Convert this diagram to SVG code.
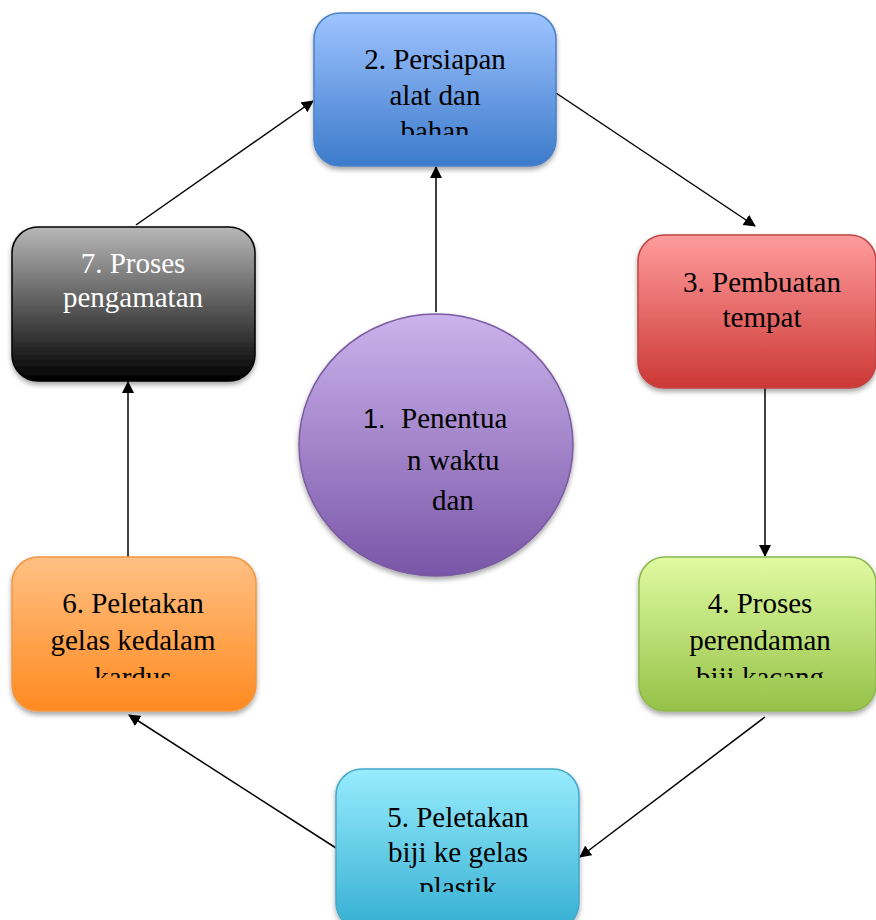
<svg xmlns="http://www.w3.org/2000/svg" width="876" height="920" viewBox="0 0 876 920">
<style>
.t{font-family:"Liberation Serif","Times New Roman",serif;font-size:29px;fill:#000;text-anchor:middle}
.w{fill:#fff}
.c{stroke:#000;stroke-width:1.5;fill:none;marker-end:url(#ah)}
</style>
<defs>
<marker id="ah" markerWidth="12" markerHeight="12" refX="11" refY="6" orient="auto" markerUnits="userSpaceOnUse" viewBox="0 0 12 12">
<path d="M0,0 L12,6 L0,12 z" fill="#000"/>
</marker>
<filter id="sh" x="-10%" y="-10%" width="125%" height="130%">
<feDropShadow dx="0" dy="3" stdDeviation="2.5" flood-color="#000" flood-opacity="0.35"/>
</filter>
<linearGradient id="g1" x1="0" y1="0" x2="0" y2="1"><stop offset="0" stop-color="#CBB3EC"/><stop offset="1" stop-color="#7A56A8"/></linearGradient>
<linearGradient id="g2" x1="0" y1="0" x2="0" y2="1"><stop offset="0" stop-color="#9EC4FF"/><stop offset="1" stop-color="#3D7ACB"/></linearGradient>
<linearGradient id="g3" x1="0" y1="0" x2="0" y2="1"><stop offset="0" stop-color="#FF9C9C"/><stop offset="1" stop-color="#CC3835"/></linearGradient>
<linearGradient id="g4" x1="0" y1="0" x2="0" y2="1"><stop offset="0" stop-color="#E0FBA2"/><stop offset="1" stop-color="#95C248"/></linearGradient>
<linearGradient id="g5" x1="0" y1="0" x2="0" y2="1"><stop offset="0" stop-color="#98ECFE"/><stop offset="1" stop-color="#35AFD2"/></linearGradient>
<linearGradient id="g6" x1="0" y1="0" x2="0" y2="1"><stop offset="0" stop-color="#FFC083"/><stop offset="1" stop-color="#FF8A20"/></linearGradient>
<linearGradient id="g7" x1="0" y1="0" x2="0" y2="1"><stop offset="0" stop-color="#B8B8B8"/><stop offset="1" stop-color="#000"/></linearGradient>
<clipPath id="c2"><rect x="314" y="13" width="242" height="122"/></clipPath>
<clipPath id="c4"><rect x="639" y="557" width="237" height="121"/></clipPath>
<clipPath id="c5"><rect x="336" y="769" width="243" height="123"/></clipPath>
<clipPath id="c6"><rect x="12" y="557" width="244" height="121"/></clipPath>
</defs>
<rect width="876" height="920" fill="#fff"/>
<g id="connectors">
<line class="c" x1="436" y1="312" x2="436" y2="167"/>
<line class="c" x1="136" y1="225" x2="313" y2="101"/>
<line class="c" x1="556" y1="93" x2="755" y2="226"/>
<line class="c" x1="765" y1="388" x2="765" y2="556"/>
<line class="c" x1="765" y1="717" x2="580" y2="857"/>
<line class="c" x1="336" y1="848" x2="129" y2="715"/>
<line class="c" x1="128" y1="557" x2="128" y2="382"/>
</g>
<g id="node1">
<ellipse cx="436" cy="445" rx="137" ry="131" fill="url(#g1)" stroke="#7A5AA0" stroke-width="1.5" filter="url(#sh)"/>
<text x="363" y="428" style="font-family:'Liberation Sans',Arial,sans-serif;font-size:27px">1.</text>
<text x="401" y="428" class="t" style="text-anchor:start">Penentua</text>
<text x="407" y="470" class="t" style="text-anchor:start">n waktu</text>
<text x="432" y="510" class="t" style="text-anchor:start">dan</text>
</g>
<g id="node2">
<rect x="314" y="13" width="242" height="153" rx="26" fill="url(#g2)" stroke="#4A80C8" stroke-width="1.5" filter="url(#sh)"/>
<g clip-path="url(#c2)">
<text x="435" y="69" class="t">2. Persiapan</text>
<text x="435" y="105" class="t">alat dan</text>
<text x="435" y="141" class="t">bahan</text>
</g>
</g>
<g id="node3">
<rect x="638" y="235" width="238" height="153" rx="26" fill="url(#g3)" stroke="#C04444" stroke-width="1.5" filter="url(#sh)"/>
<text x="762" y="292" class="t">3. Pembuatan</text>
<text x="762" y="327" class="t">tempat</text>
</g>
<g id="node4">
<rect x="639" y="557" width="237" height="154" rx="26" fill="url(#g4)" stroke="#8DB850" stroke-width="1.5" filter="url(#sh)"/>
<g clip-path="url(#c4)">
<text x="760" y="613" class="t">4. Proses</text>
<text x="760" y="650" class="t">perendaman</text>
<text x="760" y="687" class="t">biji kacang</text>
</g>
</g>
<g id="node5">
<rect x="336" y="769" width="243" height="160" rx="26" fill="url(#g5)" stroke="#45A8C8" stroke-width="1.5" filter="url(#sh)"/>
<g clip-path="url(#c5)">
<text x="458" y="827" class="t">5. Peletakan</text>
<text x="458" y="862" class="t">biji ke gelas</text>
<text x="458" y="897" class="t">plastik</text>
</g>
</g>
<g id="node6">
<rect x="12" y="557" width="244" height="154" rx="26" fill="url(#g6)" stroke="#F29640" stroke-width="1.5" filter="url(#sh)"/>
<g clip-path="url(#c6)">
<text x="133" y="613" class="t">6. Peletakan</text>
<text x="133" y="650" class="t">gelas kedalam</text>
<text x="133" y="687" class="t">kardus</text>
</g>
</g>
<g id="node7">
<rect x="12" y="227" width="243" height="154" rx="26" fill="url(#g7)" stroke="#000" stroke-width="1.5" filter="url(#sh)"/>
<text x="133" y="273" class="t w">7. Proses</text>
<text x="133" y="307" class="t w">pengamatan</text>
</g>
</svg>
